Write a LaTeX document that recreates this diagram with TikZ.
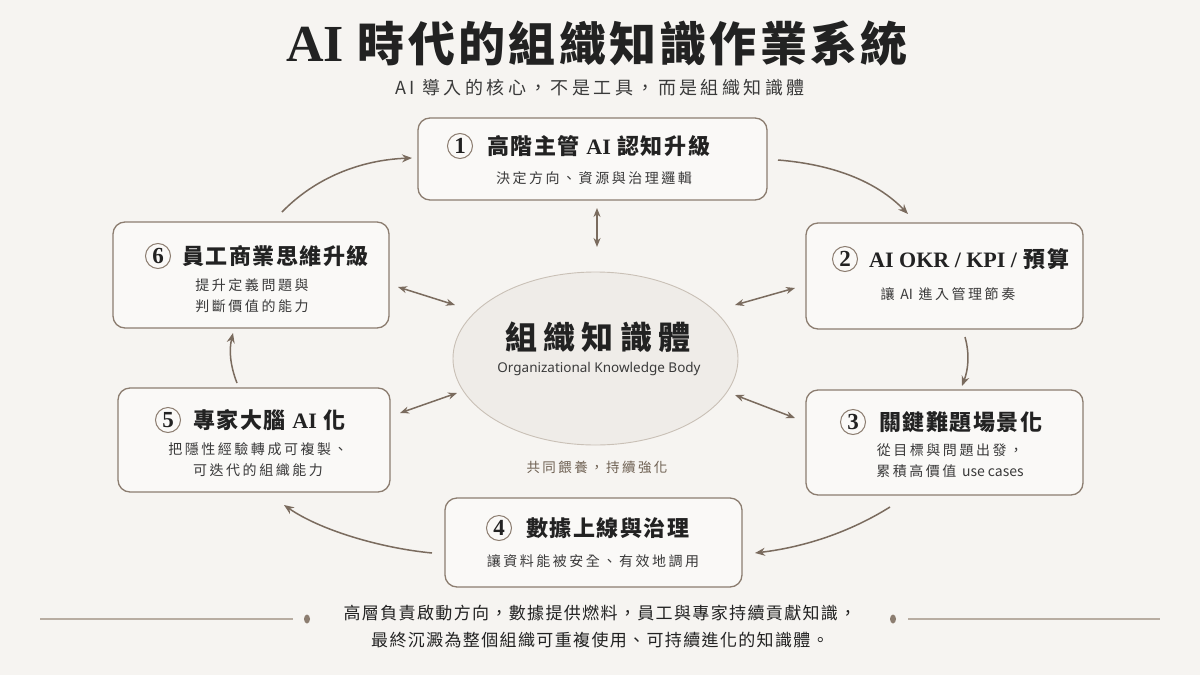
\documentclass[tikz,border=0pt]{standalone}
\usepackage{fontspec}
\usetikzlibrary{arrows.meta,shapes.geometric}
\setmainfont{Noto Sans CJK TC}
\newfontfamily\cjk{Noto Sans CJK TC}
\newfontfamily\cjkTitle{Noto Sans CJK TC}[LetterSpace=7]
\newfontfamily\cjkSub{Noto Sans CJK TC}[LetterSpace=19]
\newfontfamily\cjkBox{Noto Sans CJK TC}[LetterSpace=7]
\newfontfamily\cjkSmall{Noto Sans CJK TC}[LetterSpace=18]
\newfontfamily\cjkCore{Noto Sans CJK TC}[LetterSpace=20]
\newfontfamily\cjkFoot{Noto Sans CJK TC}[LetterSpace=8]
\newfontfamily\serifb{Liberation Serif}
\newfontfamily\latsans{Noto Sans}
\definecolor{bg}{HTML}{F6F4F1}
\definecolor{boxfill}{HTML}{FAF9F7}
\definecolor{boxline}{HTML}{8C7D70}
\definecolor{arrowc}{HTML}{7A6B5E}
\definecolor{textdark}{HTML}{222222}
\definecolor{subtext}{HTML}{3A3A3A}
\definecolor{ellfill}{HTML}{EFECE8}
\definecolor{elldraw}{HTML}{C9C0B6}
\definecolor{footline}{HTML}{B8ADA2}
\definecolor{dotc}{HTML}{8C7D70}
\definecolor{feedc}{HTML}{6E6052}
\tikzset{
  box/.style={draw=boxline, line width=1.3pt, rounded corners=12pt, fill=boxfill, inner sep=0pt},
  num/.style={circle, draw=boxline, line width=1pt, minimum size=25pt, inner sep=0pt,
    font=\serifb\bfseries\fontsize{23}{23}\selectfont, text=textdark},
  ttl/.style={anchor=west, inner sep=0pt, font=\cjkBox\bfseries\fontsize{22}{22}\selectfont, text=textdark},
  subt/.style={inner sep=0pt, align=center, font=\cjkSmall\fontsize{14}{21}\selectfont, text=subtext},
  arr/.style={draw=arrowc, line width=1.5pt, -{Stealth[length=10pt,width=8pt]}},
  darr/.style={draw=arrowc, line width=1.5pt, {Stealth[length=9pt,width=7pt]}-{Stealth[length=9pt,width=7pt]}},
}
\begin{document}
\begin{tikzpicture}[x=1pt,y=-1pt]
\fill[bg] (0,0) rectangle (1200,675);
\useasboundingbox (0,0) rectangle (1200,675);

% Title
\node[inner sep=0pt, text=textdark, font=\cjkTitle\bfseries\fontsize{47}{47}\selectfont] (title) at (597,44)
  {{\serifb\bfseries\fontsize{52}{52}\selectfont AI} 時代的組織知識作業系統};
\node[inner sep=0pt, text=subtext, font=\cjkSub\fontsize{18}{18}\selectfont] (subtitle) at (600,88)
  {AI 導入的核心，不是工具，而是組織知識體};

% Core ellipse
\node[ellipse, draw=elldraw, fill=ellfill, line width=0.9pt, minimum width=285pt, minimum height=173pt, inner sep=0pt] (core) at (595.5,358.5) {};
\node[inner sep=0pt, text=textdark, font=\cjkCore\bfseries\fontsize{32}{32}\selectfont] (coret) at (598,337) {組織知識體};
\node[inner sep=0pt, text=subtext, font=\latsans\fontsize{13.5}{13.5}\selectfont] (coree) at (599,369) {Organizational Knowledge Body};
\node[inner sep=0pt, text=feedc, font=\cjkSmall\fontsize{13.5}{13.5}\selectfont] (feed) at (597,467) {共同餵養，持續強化};

% Boxes
\node[box, minimum width=349pt, minimum height=82pt] (b1) at (592.5,159) {};
\node[num] (n1) at (460,146) {1};
\node[ttl] (t1) at (487,146) {高階主管 {\serifb\bfseries AI} 認知升級};
\node[subt] (s1) at (594,178) {決定方向、資源與治理邏輯};

\node[box, minimum width=277pt, minimum height=106pt] (b2) at (944.5,276) {};
\node[num] (n2) at (845,259) {2};
\node[ttl] (t2) at (869,259) {{\serifb\bfseries AI OKR / KPI /} 預算};
\node[subt] (s2) at (948,294) {讓 {\cjk AI} 進入管理節奏};

\node[box, minimum width=277pt, minimum height=105pt] (b3) at (944.5,442.5) {};
\node[num] (n3) at (853,422) {3};
\node[ttl] (t3) at (879,422) {關鍵難題場景化};
\node[subt] (s3) at (950,461) {從目標與問題出發，\\累積高價值 {\cjk use cases}};

\node[box, minimum width=297pt, minimum height=89pt] (b4) at (593.5,542.5) {};
\node[num] (n4) at (499,528) {4};
\node[ttl] (t4) at (526,528) {數據上線與治理};
\node[subt] (s4) at (593,561) {讓資料能被安全、有效地調用};

\node[box, minimum width=272pt, minimum height=104pt] (b5) at (254,440) {};
\node[num] (n5) at (168,420) {5};
\node[ttl] (t5) at (193,420) {專家大腦 {\serifb\bfseries AI} 化};
\node[subt] (s5) at (258,460) {把隱性經驗轉成可複製、\\可迭代的組織能力};

\node[box, minimum width=276pt, minimum height=106pt] (b6) at (251,275) {};
\node[num] (n6) at (158,256) {6};
\node[ttl] (t6) at (182,256) {員工商業思維升級};
\node[subt] (s6) at (252,296) {提升定義問題與\\判斷價值的能力};

% Cycle arrows
\coordinate (c1s) at (282,212); \coordinate (c1e) at (412,158);
\coordinate (c2s) at (778,160); \coordinate (c2e) at (908,214);
\coordinate (c3s) at (965,337); \coordinate (c3e) at (962,386);
\coordinate (c4s) at (890,507); \coordinate (c4e) at (755,553);
\coordinate (c5s) at (432,553); \coordinate (c5e) at (284,505);
\coordinate (c6s) at (237,383); \coordinate (c6e) at (233,333);
\draw[arr] (c1s) .. controls (315,178) and (360,160) .. (c1e);
\draw[arr] (c2s) .. controls (840,165) and (880,185) .. (c2e);
\draw[arr] (c3s) .. controls (970,355) and (968,370) .. (c3e);
\draw[arr] (c4s) .. controls (850,532) and (805,547) .. (c4e);
\draw[arr] (c5s) .. controls (380,548) and (320,530) .. (c5e);
\draw[arr] (c6s) .. controls (230,365) and (229,350) .. (c6e);

% Double arrows to core
\coordinate (d1a) at (597,208); \coordinate (d1b) at (597,247);
\coordinate (d2a) at (398,287); \coordinate (d2b) at (455,305);
\coordinate (d3a) at (795,288); \coordinate (d3b) at (735,305);
\coordinate (d4a) at (400,413); \coordinate (d4b) at (457,393);
\coordinate (d5a) at (795,418); \coordinate (d5b) at (735,395);
\draw[darr] (d1a) -- (d1b);
\draw[darr] (d2a) -- (d2b);
\draw[darr] (d3a) -- (d3b);
\draw[darr] (d4a) -- (d4b);
\draw[darr] (d5a) -- (d5b);

% Footer
\coordinate (fl1) at (40,619); \coordinate (fl2) at (293,619);
\coordinate (fr1) at (908,619); \coordinate (fr2) at (1160,619);
\draw[footline, line width=1.2pt] (fl1) -- (fl2);
\draw[footline, line width=1.2pt] (fr1) -- (fr2);
\fill[dotc] (307,619) ellipse (3 and 4.5);
\fill[dotc] (893,619) ellipse (3 and 4.5);
\node[inner sep=0pt, align=center, text=textdark, font=\cjkFoot\fontsize{17}{27}\selectfont] (foot) at (600,627)
  {高層負責啟動方向，數據提供燃料，員工與專家持續貢獻知識，\\最終沉澱為整個組織可重複使用、可持續進化的知識體。};
\end{tikzpicture}
\end{document}
